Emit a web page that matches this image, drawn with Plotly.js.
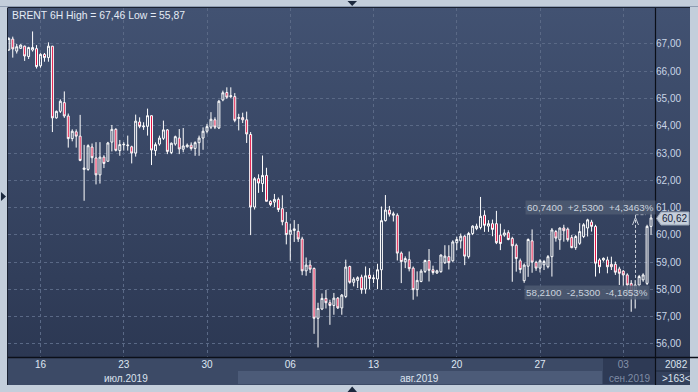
<!DOCTYPE html>
<html><head><meta charset="utf-8">
<script src="https://cdn.plot.ly/plotly-3.0.1.min.js"></script>
<style>
html,body{margin:0;padding:0;background:#c3cedb;width:698px;height:392px;overflow:hidden;}
.bg{position:absolute;}
#plotbg{left:8px;top:8px;width:682px;height:349px;background:linear-gradient(#425272,#2c3853);}
#axbg{left:8px;top:358px;width:647px;height:27px;background:#3c4a66;}
#aug{left:238px;top:371px;width:364px;height:13px;background:#4c5b78;}
#sep{left:603px;top:358px;width:52px;height:26px;background:#2e3a55;}
#corner{left:656px;top:358px;width:34px;height:27px;background:#34415c;}
#topline{left:0;top:6px;width:698px;height:1px;background:#8f9db2;}
#chart{position:absolute;left:0;top:0;width:698px;height:392px;}
</style></head><body>
<div class="bg" id="topline"></div>
<div class="bg" id="plotbg"></div>
<div class="bg" id="axbg"></div>
<div class="bg" id="aug"></div>
<div class="bg" id="sep"></div>
<div class="bg" id="corner"></div>
<div id="chart"></div>
<script>
// ---- data: BRENT 6H candles (open, high, low, close) ----
const opens  = [66.78,67.18,66.74,66.84,66.92,66.54,66.78,66.83,66.20,66.62,66.50,66.92,64.29,64.53,64.85,64.36,63.53,63.78,63.62,62.40,
62.40,63.22,62.82,62.20,62.85,62.70,63.40,63.87,63.09,63.30,63.27,63.23,63.00,64.14,63.96,63.98,64.37,63.09,63.33,63.54,
63.85,63.02,63.33,63.55,63.14,63.23,63.29,63.17,63.38,63.55,63.80,63.95,64.22,63.92,64.95,65.22,65.07,65.07,64.27,64.30,
64.22,63.68,61.02,62.06,61.88,62.18,61.23,61.20,61.30,60.96,60.46,60.02,60.16,60.13,59.85,58.68,58.89,58.77,56.94,57.28,
57.67,57.51,57.41,57.68,57.32,57.74,58.84,58.26,58.33,58.45,58.01,58.52,58.39,58.38,58.72,60.52,60.91,60.72,60.72,59.33,
59.01,59.09,58.78,57.99,58.29,58.66,59.06,58.72,58.60,58.65,58.98,59.20,59.05,59.71,59.78,59.95,59.20,60.05,60.23,60.27,
60.72,60.32,60.41,60.41,59.99,59.99,60.08,59.87,59.62,59.05,58.32,58.85,59.78,58.99,58.78,58.90,58.83,59.20,60.12,59.82,
60.25,60.21,59.90,59.53,59.69,59.94,60.25,60.47,60.31,59.08,59.08,59.08,58.92,58.92,58.75,58.67,58.53,58.22,57.79,58.16,
58.35,58.22,60.31];
const highs  = [67.25,67.27,67.00,66.99,66.94,66.90,67.46,66.96,66.66,66.67,67.06,66.93,64.56,64.97,65.26,64.45,63.87,63.87,64.40,63.30,
63.32,63.35,63.40,63.40,62.92,63.41,64.03,63.91,63.48,63.40,63.64,63.27,64.41,64.31,64.13,64.63,64.38,63.39,63.64,64.19,
63.88,63.39,63.64,63.88,63.92,63.35,63.39,63.43,63.64,63.94,64.07,64.50,64.31,64.95,65.29,65.41,65.41,65.20,64.44,64.48,
64.52,63.77,62.12,62.22,62.91,62.46,61.27,61.50,61.37,61.45,60.84,60.41,60.54,60.40,59.93,59.17,59.07,58.80,57.51,57.85,
57.98,57.62,57.87,57.72,57.83,59.09,58.87,58.45,58.48,58.54,58.84,58.78,58.54,58.94,61.04,61.46,61.06,60.85,60.79,59.39,
59.21,59.39,58.84,58.66,58.74,59.09,59.48,58.87,58.72,59.28,59.62,59.62,59.80,59.93,60.05,59.99,60.11,60.35,60.41,61.39,
60.90,60.54,60.56,60.88,60.41,60.20,60.17,59.93,59.68,59.13,58.95,59.87,60.20,59.05,59.11,59.08,59.26,60.25,60.18,60.27,
60.37,60.27,60.00,60.00,60.43,60.43,60.59,60.55,60.37,59.14,59.17,59.20,59.20,59.02,58.83,58.71,58.59,58.34,58.34,58.53,
58.59,60.37,60.92];
const lows   = [66.75,66.50,66.65,66.82,66.38,66.45,66.72,66.10,66.13,66.35,66.35,63.77,64.26,64.47,64.29,63.20,63.43,63.20,62.70,61.25,
62.35,62.63,61.85,61.88,62.45,62.68,63.06,63.06,62.90,63.09,63.09,62.62,62.87,63.91,63.85,63.64,62.56,62.90,63.27,63.48,
62.96,62.96,63.27,62.96,63.03,63.20,63.09,62.90,62.90,63.12,63.72,63.88,63.88,63.88,64.90,64.99,65.02,64.13,63.83,64.10,
63.37,59.99,60.93,61.54,61.57,61.23,61.05,61.02,60.84,60.35,59.65,59.05,59.74,59.74,58.52,58.50,58.60,56.37,55.87,57.24,
57.30,56.70,57.07,57.28,57.07,57.68,58.21,58.11,58.05,57.84,57.84,58.01,58.23,58.01,57.99,60.49,60.67,60.49,59.06,58.23,
58.78,58.66,57.62,57.74,58.26,58.60,58.29,58.54,58.57,58.61,58.93,58.73,59.01,59.44,59.50,58.89,59.13,59.99,60.17,60.20,
60.11,60.11,59.95,59.66,59.44,59.93,59.80,58.28,58.65,58.59,58.24,58.46,58.61,58.68,58.62,58.71,58.77,58.47,59.75,59.45,
59.75,59.75,59.51,59.45,59.63,59.88,59.94,60.12,58.47,58.59,59.02,58.59,58.71,58.53,58.16,58.10,57.79,57.18,57.30,58.10,
58.28,58.16,60.00];
const closes = [67.20,66.82,66.90,66.96,66.56,66.87,66.87,66.17,66.62,66.50,66.92,64.29,64.53,64.90,64.36,63.53,63.80,63.62,62.73,62.45,
63.27,62.83,62.20,62.85,62.62,63.37,63.87,63.10,63.31,63.32,63.29,63.00,64.17,63.98,63.99,64.37,63.11,63.31,63.55,63.85,
63.06,63.36,63.60,63.15,63.26,63.29,63.17,63.38,63.55,63.80,63.97,64.24,63.95,64.90,65.21,65.05,65.10,64.20,64.30,64.22,
63.70,61.02,62.06,61.90,62.18,61.23,61.11,61.30,60.93,60.48,60.01,60.17,60.22,59.85,58.68,58.89,58.74,56.94,57.30,57.67,
57.51,57.41,57.68,57.32,57.79,58.82,58.26,58.38,58.43,57.99,58.50,58.40,58.42,58.72,60.52,60.91,60.76,60.77,59.33,59.02,
59.13,58.76,57.99,58.33,58.67,59.06,58.70,58.62,58.68,59.26,59.22,58.98,59.74,59.83,59.95,59.22,60.05,60.32,60.32,60.68,
60.35,60.41,60.20,59.71,59.68,60.07,59.83,59.60,59.13,58.73,58.89,59.83,59.00,58.78,59.05,59.02,59.20,60.18,59.88,60.25,
60.15,59.82,59.53,59.94,60.12,60.37,60.55,60.31,58.96,58.83,59.14,58.83,58.83,58.63,58.59,58.53,58.16,57.79,58.16,58.47,
58.53,60.31,60.62];
const barIndex = opens.map((_, i) => i);
const tickIdx  = [8, 29, 50, 71, 92, 113, 134, 155];
const tickText = ['16','23','30','06','13','20','27',"<span style='color:#8592aa'>03</span>"];
const yTicks   = [56,57,58,59,60,61,62,63,64,65,66,67];
const months   = ['июл.2019','авг.2019','сен.2019'];
const titleText = 'BRENT 6H High = 67,46 Low = 55,87';
const measureTop = '60,7400  +2,5300  +4,3463%';
const measureBot = '58,2100  -2,5300  -4,1653%';
const measureHi = 60.74, measureLo = 58.21;
const lastPrice = 60.62;
const barsTotal = '2082', barsVisible = '>163<';

// ---- helpers: pixel -> paper ----
const PX = px => (px - 8) / 647;
const PY = py => (357 - py) / 349;
const F = 'Liberation Sans, Arial, sans-serif';

const trace = {
  type: 'candlestick', x: barIndex, open: opens, high: highs, low: lows, close: closes,
  increasing: {line: {color: '#ffffff', width: 1}, fillcolor: 'rgba(0,0,0,0)'},
  decreasing: {line: {color: '#ffffff', width: 1}, fillcolor: '#e3093c'},
  whiskerwidth: 0, hoverinfo: 'none', showlegend: false
};

const gridStyle = {gridcolor: '#5a6986', griddash: '3px,3px', gridwidth: 1};

const shapes = [
  {type:'line', xref:'paper', yref:'paper', x0:PX(8), x1:PX(698), y0:PY(357.5), y1:PY(357.5), line:{color:'#0b0f18', width:1.5}},
  {type:'line', xref:'paper', yref:'paper', x0:PX(655.5), x1:PX(655.5), y0:PY(8), y1:PY(385), line:{color:'#0b0f18', width:1.2}},
  {type:'line', xref:'paper', yref:'paper', x0:PX(7.5), x1:PX(7.5), y0:PY(8), y1:PY(385), line:{color:'#1a2232', width:1}},
  {type:'line', xref:'paper', yref:'paper', x0:PX(7.5), x1:PX(690), y0:PY(7.5), y1:PY(7.5), line:{color:'#1a2232', width:1}},
  {type:'line', xref:'paper', yref:'paper', x0:PX(656), x1:PX(690), y0:PY(371), y1:PY(371), line:{color:'#1f2a3e', width:1}},
  {type:'path', xref:'paper', yref:'paper', path:`M ${PX(347.5)},${PY(1)} L ${PX(357)},${PY(1)} L ${PX(352.2)},${PY(6)} Z`, fillcolor:'#1b283d', line:{width:0}},
  {type:'path', xref:'paper', yref:'paper', path:`M ${PX(347.5)},${PY(392)} L ${PX(357)},${PY(392)} L ${PX(352.2)},${PY(386.5)} Z`, fillcolor:'#1b283d', line:{width:0}},
  {type:'path', xref:'paper', yref:'paper', path:`M ${PX(1)},${PY(192)} L ${PX(1)},${PY(201)} L ${PX(6)},${PY(196.5)} Z`, fillcolor:'#1b283d', line:{width:0}},
  {type:'line', xref:'paper', yref:'y', x0:PX(635.5), x1:PX(635.5), y0:58.42, y1:measureHi, line:{color:'#c9cfd9', width:1, dash:'3px,2px'}},
  {type:'line', xref:'paper', yref:'y', x0:PX(635.5), x1:PX(646), y0:measureHi, y1:measureHi, line:{color:'#c9cfd9', width:1, dash:'3px,2px'}},
  {type:'path', xref:'paper', yref:'paper', path:`M ${PX(632.5)},${PY(225)} L ${PX(635.5)},${PY(217.5)} L ${PX(638.5)},${PY(225)}`, line:{color:'#c9cfd9', width:1}},
  {type:'path', xref:'paper', yref:'paper', path:`M ${PX(661)},${PY(212)} L ${PX(689)},${PY(212)} L ${PX(689)},${PY(225)} L ${PX(661)},${PY(225)} L ${PX(656.5)},${PY(218.5)} Z`, fillcolor:'#c6cfdb', line:{color:'#9aa6b8', width:1}}
];

const annotations = [
  {xref:'paper', yref:'paper', x:PX(10), y:PY(15.5), xanchor:'left', yanchor:'middle', showarrow:false, text:titleText, font:{family:F, size:10.4, color:'#e4ebf5'}},
  {xref:'paper', yref:'paper', x:PX(126), y:PY(378), xanchor:'center', yanchor:'middle', showarrow:false, text:months[0], font:{family:F, size:10, color:'#dbe3ef'}},
  {xref:'paper', yref:'paper', x:PX(419), y:PY(378), xanchor:'center', yanchor:'middle', showarrow:false, text:months[1], font:{family:F, size:10, color:'#dbe3ef'}},
  {xref:'paper', yref:'paper', x:PX(630), y:PY(378), xanchor:'center', yanchor:'middle', showarrow:false, text:months[2], font:{family:F, size:10, color:'#7f8ca5'}},
  {xref:'paper', yref:'paper', x:PX(590), y:PY(207), xanchor:'center', yanchor:'middle', showarrow:false, text:measureTop, bgcolor:'rgba(78,90,114,0.85)', borderpad:1, font:{family:F, size:9.8, color:'#cbd3de'}},
  {xref:'paper', yref:'paper', x:PX(587), y:PY(292.5), xanchor:'center', yanchor:'middle', showarrow:false, text:measureBot, bgcolor:'rgba(78,90,114,0.85)', borderpad:1, font:{family:F, size:9.8, color:'#cbd3de'}},
  {xref:'paper', yref:'paper', x:PX(674), y:PY(218.5), xanchor:'center', yanchor:'middle', showarrow:false, text:lastPrice.toFixed(2).replace('.', ','), font:{family:F, size:10, color:'#17233a'}},
  {xref:'paper', yref:'paper', x:PX(676), y:PY(364.5), xanchor:'center', yanchor:'middle', showarrow:false, text:barsTotal, font:{family:F, size:10, color:'#dbe3ef'}},
  {xref:'paper', yref:'paper', x:PX(676), y:PY(378), xanchor:'center', yanchor:'middle', showarrow:false, text:barsVisible, font:{family:F, size:10, color:'#dbe3ef'}}
];

const layout = {
  width: 698, height: 392,
  margin: {l: 8, r: 43, t: 8, b: 35, pad: 0},
  paper_bgcolor: 'rgba(0,0,0,0)', plot_bgcolor: 'rgba(0,0,0,0)',
  separators: ', ',
  showlegend: false,
  boxgap: 0.3,
  xaxis: Object.assign({
    range: [-0.2, 163.0], rangeslider: {visible: false}, tickmode: 'array',
    tickvals: tickIdx, ticktext: tickText, ticks: '', showline: false, zeroline: false,
    tickfont: {family: F, size: 10, color: '#dfe7f2'}, fixedrange: true
  }, gridStyle),
  yaxis: Object.assign({
    range: [55.52, 68.32], side: 'right', tickmode: 'array', tickvals: yTicks, tickformat: '.2f',
    ticks: '', showline: false, zeroline: false,
    tickfont: {family: F, size: 10, color: '#c9d5e6'}, fixedrange: true
  }, gridStyle),
  shapes: shapes,
  annotations: annotations
};

Plotly.newPlot('chart', [trace], layout, {staticPlot: true, displayModeBar: false});
</script>
</body></html>
